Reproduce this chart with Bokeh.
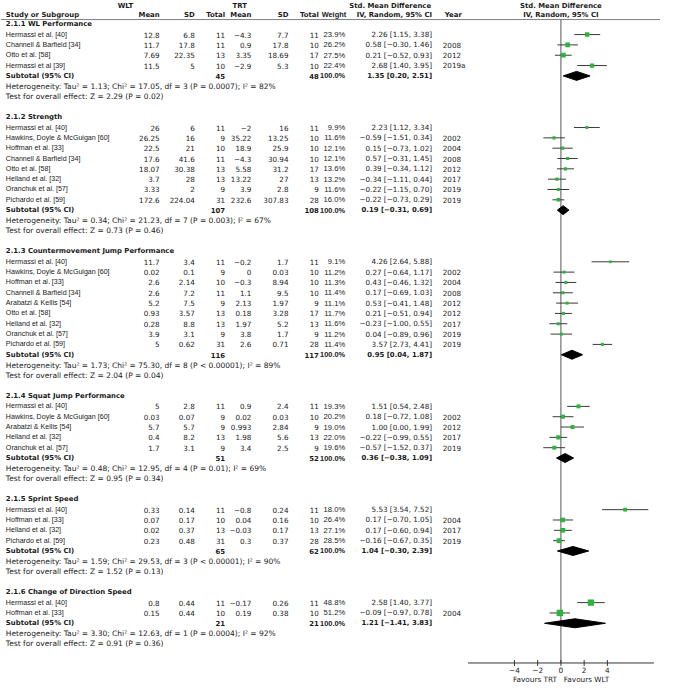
from bokeh.plotting import figure
from bokeh.models import Range1d, ColumnDataSource
from bokeh.core.properties import value
from bokeh.embed import file_html
from bokeh.resources import INLINE
import math

# ---------------- data ----------------
group_titles = [
    "2.1.1 WL Performance",
    "2.1.2 Strength",
    "2.1.3 Countermovement Jump Performance",
    "2.1.4 Squat Jump Performance",
    "2.1.5 Sprint Speed",
    "2.1.6 Change of Direction Speed",
]
group_sizes = [4, 8, 9, 5, 4, 2]

study = [
    "Hermassi et al. [40]", "Channell & Barfield [34]", "Otto et al. [58]", "Hermassi et al [39]",
    "Hermassi et al. [40]", "Hawkins, Doyle & McGuigan [60]", "Hoffman et al. [33]", "Channell & Barfield [34]",
    "Otto et al. [58]", "Helland et al. [32]", "Oranchuk et al. [57]", "Pichardo et al. [59]",
    "Hermassi et al. [40]", "Hawkins, Doyle & McGuigan [60]", "Hoffman et al. [33]", "Channell & Barfield [34]",
    "Arabatzi & Kellis [54]", "Otto et al. [58]", "Helland et al. [32]", "Oranchuk et al. [57]", "Pichardo et al. [59]",
    "Hermassi et al. [40]", "Hawkins, Doyle & McGuigan [60]", "Arabatzi & Kellis [54]", "Helland et al. [32]",
    "Oranchuk et al. [57]",
    "Hermassi et al. [40]", "Hoffman et al. [33]", "Helland et al. [32]", "Pichardo et al. [59]",
    "Hermassi et al. [40]", "Hoffman et al. [33]",
]
wlt_mean = [12.8, 11.7, 7.69, 11.5,
            26, 26.25, 22.5, 17.6, 18.07, 3.7, 3.33, 172.6,
            11.7, 0.02, 2.6, 2.6, 5.2, 0.93, 0.28, 3.9, 5,
            5, 0.03, 5.7, 0.4, 1.7,
            0.33, 0.07, 0.02, 0.23,
            0.8, 0.15]
wlt_sd = [6.8, 17.8, 22.35, 5,
          6, 16, 21, 41.6, 30.38, 28, 2, 224.04,
          3.4, 0.1, 2.14, 7.2, 7.5, 3.57, 8.8, 3.1, 0.62,
          2.8, 0.07, 5.7, 8.2, 3.1,
          0.14, 0.17, 0.37, 0.48,
          0.44, 0.44]
wlt_n = [11, 11, 13, 10,
         11, 9, 10, 11, 13, 13, 9, 31,
         11, 9, 10, 11, 9, 13, 13, 9, 31,
         11, 9, 9, 13, 9,
         11, 10, 13, 31,
         11, 10]
trt_mean = [-4.3, 0.9, 3.35, -2.9,
            -2, 35.22, 18.9, -4.3, 5.58, 13.22, 3.9, 232.6,
            -0.2, 0, -0.3, 1.1, 2.13, 0.18, 1.97, 3.8, 2.6,
            0.9, 0.02, 0.993, 1.98, 3.4,
            -0.8, 0.04, -0.03, 0.3,
            -0.17, 0.19]
trt_sd = [7.7, 17.8, 18.69, 5.3,
          16, 13.25, 25.9, 30.94, 31.2, 27, 2.8, 307.83,
          1.7, 0.03, 8.94, 9.5, 1.97, 3.28, 5.2, 1.7, 0.71,
          2.4, 0.03, 2.84, 5.6, 2.5,
          0.24, 0.16, 0.17, 0.37,
          0.26, 0.38]
trt_n = [11, 10, 17, 10,
         11, 10, 10, 10, 17, 13, 9, 28,
         11, 10, 10, 10, 9, 17, 13, 9, 28,
         11, 10, 9, 13, 9,
         11, 10, 13, 28,
         11, 10]
weight = [23.9, 26.2, 27.5, 22.4,
          9.9, 11.6, 12.1, 12.1, 13.6, 13.2, 11.6, 16.0,
          9.1, 11.2, 11.3, 11.4, 11.1, 11.7, 11.6, 11.2, 11.4,
          19.3, 20.2, 19.0, 22.0, 19.6,
          18.0, 26.4, 27.1, 28.5,
          48.8, 51.2]
smd = [2.26, 0.58, 0.21, 2.68,
       2.23, -0.59, 0.15, 0.57, 0.39, -0.34, -0.22, -0.22,
       4.26, 0.27, 0.43, 0.17, 0.53, 0.21, -0.23, 0.04, 3.57,
       1.51, 0.18, 1.00, -0.22, -0.57,
       5.53, 0.17, 0.17, -0.16,
       2.58, -0.09]
ci_lo = [1.15, -0.30, -0.52, 1.40,
         1.12, -1.51, -0.73, -0.31, -0.34, -1.11, -1.15, -0.73,
         2.64, -0.64, -0.46, -0.69, -0.41, -0.51, -1.00, -0.89, 2.73,
         0.54, -0.72, 0.00, -0.99, -1.52,
         3.54, -0.70, -0.60, -0.67,
         1.40, -0.97]
ci_hi = [3.38, 1.46, 0.93, 3.95,
         3.34, 0.34, 1.02, 1.45, 1.12, 0.44, 0.70, 0.29,
         5.88, 1.17, 1.32, 1.03, 1.48, 0.94, 0.55, 0.96, 4.41,
         2.48, 1.08, 1.99, 0.55, 0.37,
         7.52, 1.05, 0.94, 0.35,
         3.77, 0.78]
year = ["", "2008", "2012", "2019a",
        "", "2002", "2004", "2008", "2012", "2017", "2019", "2019",
        "", "2002", "2004", "2008", "2012", "2012", "2017", "2019", "2019",
        "", "2002", "2012", "2017", "2019",
        "", "2004", "2017", "2019",
        "", "2004"]

sub_smd = [1.35, 0.19, 0.95, 0.36, 1.04, 1.21]
sub_lo = [0.20, -0.31, 0.04, -0.38, -0.30, -1.41]
sub_hi = [2.51, 0.69, 1.87, 1.09, 2.39, 3.83]

heterogeneity = [
    "Heterogeneity: Tau\u00b2 = 1.13; Chi\u00b2 = 17.05, df = 3 (P = 0.0007); I\u00b2 = 82%",
    "Heterogeneity: Tau\u00b2 = 0.34; Chi\u00b2 = 21.23, df = 7 (P = 0.003); I\u00b2 = 67%",
    "Heterogeneity: Tau\u00b2 = 1.73; Chi\u00b2 = 75.30, df = 8 (P < 0.00001); I\u00b2 = 89%",
    "Heterogeneity: Tau\u00b2 = 0.48; Chi\u00b2 = 12.95, df = 4 (P = 0.01); I\u00b2 = 69%",
    "Heterogeneity: Tau\u00b2 = 1.59; Chi\u00b2 = 29.53, df = 3 (P < 0.00001); I\u00b2 = 90%",
    "Heterogeneity: Tau\u00b2 = 3.30; Chi\u00b2 = 12.63, df = 1 (P = 0.0004); I\u00b2 = 92%",
]
overall = [
    "Test for overall effect: Z = 2.29 (P = 0.02)",
    "Test for overall effect: Z = 0.73 (P = 0.46)",
    "Test for overall effect: Z = 2.04 (P = 0.04)",
    "Test for overall effect: Z = 0.95 (P = 0.34)",
    "Test for overall effect: Z = 1.52 (P = 0.13)",
    "Test for overall effect: Z = 0.91 (P = 0.36)",
]
smd_ticks = [-4, -2, 0, 2, 4]
axis_bounds = [-8, 8]
favours = ["Favours TRT", "Favours WLT"]

# ---------------- layout (reference pixel space) ----------------
TXT = "#1a1a1a"
STYLES = {  # kind -> (font, size, style)
    "name": ("Liberation Sans", "7.1px", "normal"),
    "num": ("DejaVu Sans", "7.2px", "normal"),
    "note": ("DejaVu Sans", "7.5px", "normal"),
    "bold": ("DejaVu Sans", "6.9px", "bold"),
    "wt": ("Liberation Sans", "7.6px", "normal"),
    "wtb": ("Liberation Sans", "7.4px", "bold"),
    "axis": ("DejaVu Sans", "7.3px", "normal"),
}
W_REF, H_REF, AXIS_Y = 676, 699, 678
ROW0, PITCH = 24.3, 10.57
ZERO_PX, PX_PER_UNIT = 574, 11.9
HDR1_Y, HDR2_Y, HLINE_Y = 5.5, 14.5, 19.5
X_STUDY = 5.5
R_WM, R_WSD, R_WN, R_TM, R_TSD, R_TN, R_W, R_CI = 163, 199, 230, 257, 295, 326, 353, 442
X_YEAR = 453


def fmt(v):
    return ("%g" % v).replace("-", "\u2212")


def fci(e, lo, hi):
    return ("%.2f [%.2f, %.2f]" % (e, lo, hi)).replace("-", "\u2212")


p = figure(width=660, height=683, output_backend="svg", toolbar_location=None,
           x_range=Range1d(0, W_REF), y_range=Range1d(H_REF, 0),
           x_axis_type=None, y_axis_type=None, min_border=0)
p.outline_line_color = None
p.extra_x_ranges = {"smd": Range1d(-ZERO_PX / PX_PER_UNIT, (W_REF - ZERO_PX) / PX_PER_UNIT)}

texts = {}


def add(x, y, t, align="left", kind="num"):
    d = texts.setdefault((align, kind), {"x": [], "y": [], "text": []})
    d["x"].append(x)
    d["y"].append(y)
    d["text"].append(t)


# headers
add(128, HDR1_Y, "WLT", "center", "bold")
add(245, HDR1_Y, "TRT", "center", "bold")
add(441, HDR1_Y, "Std. Mean Difference", "right", "bold")
add(X_STUDY, HDR2_Y, "Study or Subgroup", "left", "bold")
for xr, t in [(R_WM, "Mean"), (R_WSD, "SD"), (R_WN, "Total"), (R_TM, "Mean"), (R_TSD, "SD"),
              (R_TN, "Total"), (R_CI, "IV, Random, 95% CI")]:
    add(xr, HDR2_Y, t, "right", "bold")
add(R_W + 1, HDR2_Y, "Weight", "right", "wtb")
add(455, HDR2_Y, "Year", "left", "bold")
add(ZERO_PX, HDR1_Y, "Std. Mean Difference", "center", "bold")
add(ZERO_PX, HDR2_Y, "IV, Random, 95% CI", "center", "bold")

fx, fy, flo, fhi, fsz = [], [], [], [], []
dxs, dys = [], []
DH = 4.6

row = 0
idx = 0
for g, title in enumerate(group_titles):
    y = ROW0 + row * PITCH
    add(X_STUDY, y, title, "left", "bold")
    row += 1
    n_w = 0
    n_t = 0
    for k in range(group_sizes[g]):
        y = ROW0 + row * PITCH
        add(X_STUDY, y, study[idx], "left", "name")
        add(R_WM, y, fmt(wlt_mean[idx]), "right")
        add(R_WSD, y, fmt(wlt_sd[idx]), "right")
        add(R_WN, y, fmt(wlt_n[idx]), "right")
        add(R_TM, y, fmt(trt_mean[idx]), "right")
        add(R_TSD, y, fmt(trt_sd[idx]), "right")
        add(R_TN, y, fmt(trt_n[idx]), "right")
        add(R_W, y, "%.1f%%" % weight[idx], "right", "wt")
        add(R_CI, y, fci(smd[idx], ci_lo[idx], ci_hi[idx]), "right")
        if year[idx]:
            add(X_YEAR, y, year[idx], "left")
        fx.append(smd[idx]); fy.append(y); flo.append(ci_lo[idx]); fhi.append(ci_hi[idx])
        fsz.append(0.9 * math.sqrt(weight[idx]))
        n_w += wlt_n[idx]
        n_t += trt_n[idx]
        row += 1
        idx += 1
    y = ROW0 + row * PITCH
    add(X_STUDY, y, "Subtotal (95% CI)", "left", "bold")
    add(R_WN, y, str(n_w), "right", "bold")
    add(R_TN, y, str(n_t), "right", "bold")
    add(R_W, y, "100.0%", "right", "wtb")
    add(R_CI, y, fci(sub_smd[g], sub_lo[g], sub_hi[g]), "right", "bold")
    dxs.append([sub_lo[g], sub_smd[g], sub_hi[g], sub_smd[g]])
    dys.append([y, y - DH, y, y + DH])
    row += 1
    add(X_STUDY, ROW0 + row * PITCH, heterogeneity[g], "left", "note")
    row += 1
    add(X_STUDY, ROW0 + row * PITCH, overall[g], "left", "note")
    row += 2

# rules
p.segment(x0=[0], y0=[HLINE_Y], x1=[W_REF], y1=[HLINE_Y], line_color="#808080", line_width=1)
p.segment(x0=[0], y0=[HLINE_Y], x1=[0], y1=[AXIS_Y], x_range_name="smd",
          line_color="#555555", line_width=1)

# forest marks
src = ColumnDataSource(dict(x=fx, y=fy, lo=flo, hi=fhi, size=fsz))
p.segment(x0="lo", y0="y", x1="hi", y1="y", source=src, x_range_name="smd",
          line_color="#3a3a3a", line_width=1)
p.scatter(x="x", y="y", size="size", marker="square", source=src, x_range_name="smd",
          fill_color="#2eb33c", line_color=None)
p.patches(xs=dxs, ys=dys, x_range_name="smd", fill_color="black", line_color="black")

# effect-size axis (drawn through the smd scale)
p.segment(x0=[axis_bounds[0]], y0=[AXIS_Y], x1=[axis_bounds[1]], y1=[AXIS_Y],
          x_range_name="smd", line_color="#333333", line_width=1)
tsrc = ColumnDataSource(dict(x=smd_ticks, y0=[AXIS_Y - 3] * len(smd_ticks),
                             y1=[AXIS_Y + 3] * len(smd_ticks),
                             yl=[AXIS_Y + 7.5] * len(smd_ticks),
                             lab=[fmt(t) for t in smd_ticks]))
p.segment(x0="x", y0="y0", x1="x", y1="y1", source=tsrc, x_range_name="smd",
          line_color="#333333", line_width=1)
f, s, st = STYLES["axis"]
p.text(x="x", y="yl", text="lab", source=tsrc, x_range_name="smd",
       text_font=value(f), text_font_size=s, text_align="center",
       text_baseline="middle", text_color=TXT)
add(ZERO_PX - 4, AXIS_Y + 16.5, favours[0], "right", "axis")
add(ZERO_PX + 3, AXIS_Y + 16.5, favours[1], "left", "axis")

for (align, kind), d in texts.items():
    f, s, st = STYLES[kind]
    p.text(x="x", y="y", text="text", source=ColumnDataSource(d),
           text_font=value(f), text_font_size=s, text_align=align,
           text_baseline="middle", text_color=TXT, text_font_style=st)

open("out.html", "w").write(file_html(p, INLINE))
